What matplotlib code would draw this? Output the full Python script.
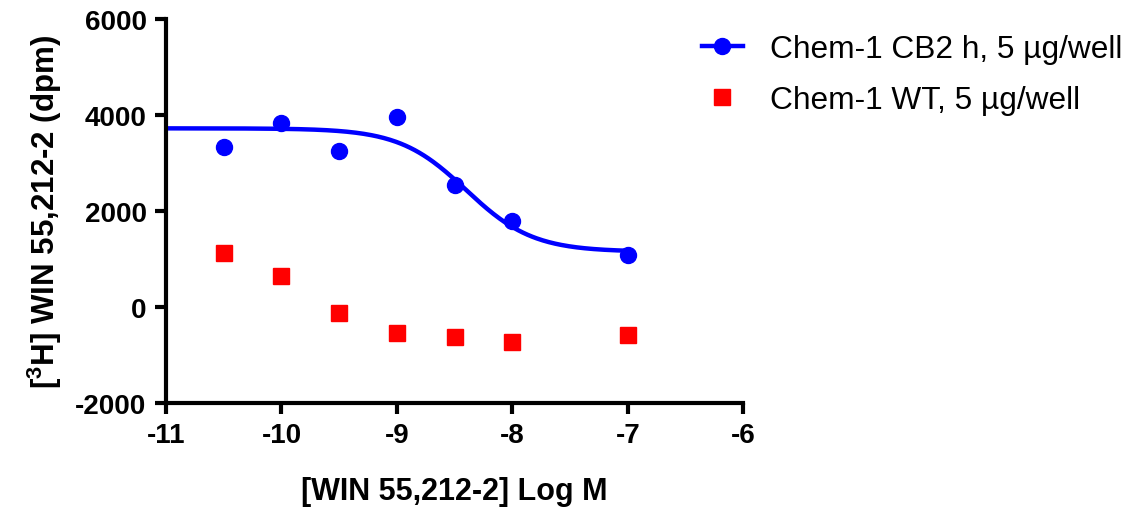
import numpy as np
import matplotlib
matplotlib.use("Agg")
import matplotlib.pyplot as plt

plt.rcParams["font.family"] = ["Liberation Sans", "DejaVu Sans"]
plt.rcParams["mathtext.fontset"] = "custom"
plt.rcParams["mathtext.bf"] = "Liberation Sans:bold"
plt.rcParams["mathtext.rm"] = "Liberation Sans:bold"
plt.rcParams["axes.unicode_minus"] = False

# ── data ──────────────────────────────────────────────────────────────────────
log_conc = [-10.5, -10.0, -9.5, -9.0, -8.5, -8.0, -7.0]
cb2_dpm  = [3340, 3830, 3240, 3960, 2540, 1780, 1090]
wt_dpm   = [1130, 650, -120, -540, -620, -740, -580]

# fitted one-site curve for CB2 (top, bottom, logIC50, hill)
fit_top, fit_bottom, fit_logic50, fit_hill = 3720, 1150, -8.40, 1.5

label_cb2 = "Chem-1 CB2 h, 5 µg/well"
label_wt  = "Chem-1 WT, 5 µg/well"

BLUE = "#0000ff"
RED = "#ff0000"

fig = plt.figure(figsize=(11.34, 5.10), dpi=100)
ax = fig.add_axes([0.1464, 0.208, 0.509, 0.753])

xf = np.linspace(-11, -7, 300)
yf = fit_bottom + (fit_top - fit_bottom) / (1 + 10 ** ((xf - fit_logic50) * fit_hill))
ax.plot(xf, yf, color=BLUE, linewidth=3.2, zorder=2)
ax.plot(log_conc, cb2_dpm, "o", color=BLUE, markersize=11.5, zorder=3)
ax.plot(log_conc, wt_dpm, "s", color=RED, markersize=11, zorder=3)

ax.set_xlim(-11, -6)
ax.set_ylim(-2000, 6000)
ax.set_xticks(np.arange(-11, -5, 1))
ax.set_yticks(np.arange(-2000, 6001, 2000))

for side in ("top", "right"):
    ax.spines[side].set_visible(False)
for side in ("left", "bottom"):
    ax.spines[side].set_linewidth(3)
ax.tick_params(width=3, length=8, direction="out", labelsize=20, pad=6)
for lab in ax.get_xticklabels() + ax.get_yticklabels():
    lab.set_fontweight("bold")

ax.set_xlabel("[WIN 55,212-2] Log M", fontsize=22, fontweight="bold", labelpad=20)
ax.set_ylabel(r"[$^{3}$H] WIN 55,212-2 (dpm)", fontsize=22.5, fontweight="bold", labelpad=8)

h1 = plt.Line2D([], [], color=BLUE, linewidth=3.2, marker="o", markersize=11.5)
h2 = plt.Line2D([], [], color=RED, linestyle="none", marker="s", markersize=11)
fig.legend([h1, h2], [label_cb2, label_wt], loc="upper left",
           bbox_to_anchor=(0.605, 0.962), frameon=False, fontsize=22.8,
           handlelength=1.3, handletextpad=0.85, labelspacing=0.66, borderpad=0)

fig.savefig("out.png", dpi=100)
